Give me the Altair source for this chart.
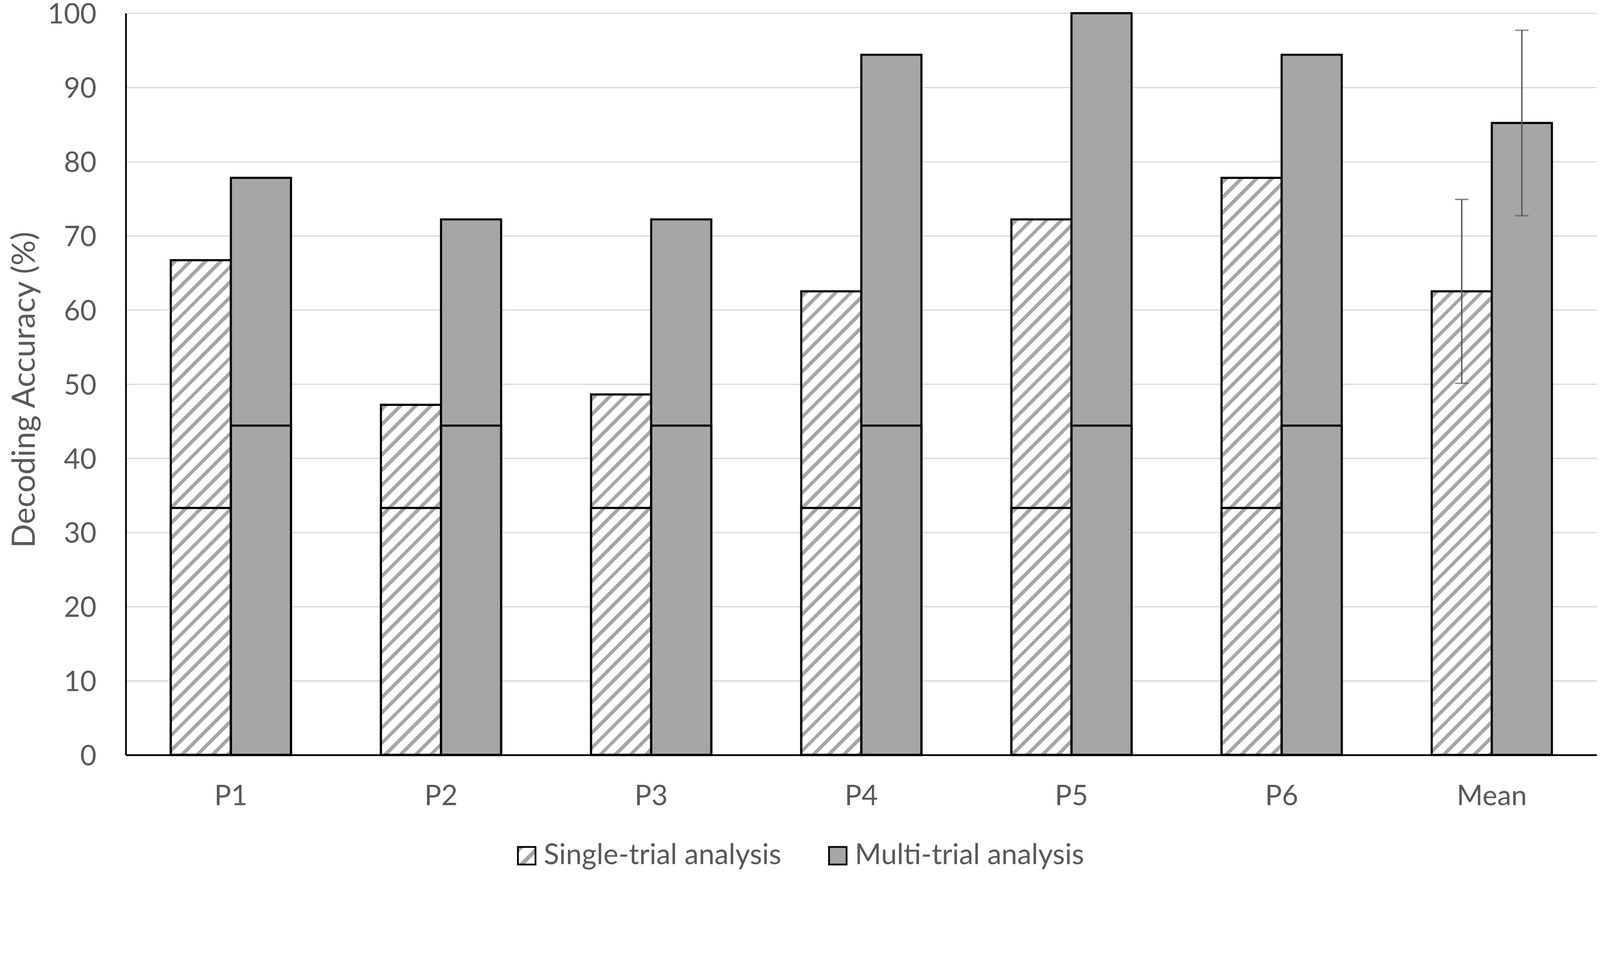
import math
import altair as alt
import pandas as pd

# ---------------- data ----------------
categories = ["P1", "P2", "P3", "P4", "P5", "P6", "Mean"]
single_acc = [66.7, 47.2, 48.6, 62.5, 72.2, 77.8, 62.5]
multi_acc = [77.8, 72.2, 72.2, 94.4, 100.0, 94.4, 85.2]
single_lower = [33.3, 33.3, 33.3, 33.3, 33.3, 33.3, None]
multi_lower = [44.4, 44.4, 44.4, 44.4, 44.4, 44.4, None]
single_err = [None, None, None, None, None, None, 12.4]
multi_err = [None, None, None, None, None, None, 12.5]
series_names = ["Single-trial analysis", "Multi-trial analysis"]
y_ticks = [0, 10, 20, 30, 40, 50, 60, 70, 80, 90, 100]

rows = []
for i, c in enumerate(categories):
    rows.append(dict(cat=c, series=series_names[0], value=single_acc[i],
                     lower=single_lower[i], err=single_err[i]))
    rows.append(dict(cat=c, series=series_names[1], value=multi_acc[i],
                     lower=multi_lower[i], err=multi_err[i]))
df = pd.DataFrame(rows)
df["lo"] = df["value"] - df["err"]
df["hi"] = df["value"] + df["err"]

# ---------------- layout / style ----------------
W, H = 4185, 2110
PAD_INNER = 0.428
FONT = "Lato"
TXT = "#595959"
GRAY = "#A6A6A6"
HATCH = "#A6A6A6"
OUT = 6

step = W / (len(categories) - PAD_INNER + PAD_INNER)
bar_w = step * (1 - PAD_INNER) / 2


def hatch_gradient(w, h, period=30.5, thick=10.0):
    L = (w + h) / math.sqrt(2)
    k = (w + h) / (w * w + h * h)
    stops = [alt.GradientStop(offset=0, color="white")]
    d = 6.0
    while d < L:
        a = round(d / L, 5)
        b = round(min((d + thick) / L, 1.0), 5)
        stops += [alt.GradientStop(offset=a, color="white"),
                  alt.GradientStop(offset=a, color=HATCH),
                  alt.GradientStop(offset=b, color=HATCH),
                  alt.GradientStop(offset=b, color="white")]
        d += period
    stops.append(alt.GradientStop(offset=1, color="white"))
    return alt.LinearGradient(gradient="linear", stops=stops,
                              x1=0, y1=0, x2=round(w * k, 6), y2=round(h * k, 6))


legend_grad = ("{gradient: 'linear', x1: 0, y1: 0, x2: 1, y2: 1, stops: ["
               "{offset: 0, color: 'white'}, {offset: 0.06, color: 'white'},"
               "{offset: 0.06, color: '#A6A6A6'}, {offset: 0.17, color: '#A6A6A6'},"
               "{offset: 0.17, color: 'white'}, {offset: 0.52, color: 'white'},"
               "{offset: 0.52, color: '#A6A6A6'}, {offset: 0.68, color: '#A6A6A6'},"
               "{offset: 0.68, color: 'white'}, {offset: 1, color: 'white'}]}")

x_enc = alt.X("cat:N", sort=categories, title=None,
              scale=alt.Scale(paddingInner=PAD_INNER, paddingOuter=PAD_INNER / 2),
              axis=alt.Axis(labelFont=FONT, labelFontSize=80, labelColor=TXT,
                            labelPadding=79, ticks=False, tickSize=0,
                            domainColor="black", domainWidth=5, grid=False,
                            labelAngle=0, labelLimit=3000))
xo_enc = alt.XOffset("series:N", sort=series_names,
                     scale=alt.Scale(domain=series_names, paddingInner=0, paddingOuter=0))
y_scale = alt.Scale(domain=[0, 100], nice=False, zero=True)
y_axis = alt.Axis(values=y_ticks, title="Decoding Accuracy (%)",
                  labelFont=FONT, labelFontSize=80, labelColor=TXT,
                  labelPadding=84, ticks=False, tickSize=0,
                  labelBaseline="alphabetic", labelOffset=29,
                  domainColor="black", domainWidth=5,
                  gridColor="#D9D9D9", gridWidth=3.5,
                  titleFont=FONT, titleFontSize=90, titleColor=TXT,
                  titleFontWeight="normal", titleAngle=-90,
                  titleBaseline="alphabetic", titleAlign="center",
                  titleX=-260, titleY=H / 2 + 16)

base = alt.Chart(df)

layers = []
for i, c in enumerate(categories):
    h = single_acc[i] / 100 * H
    layers.append(
        base.transform_filter(
            (alt.datum.cat == c) & (alt.datum.series == series_names[0])
        ).mark_bar(fill=hatch_gradient(bar_w, h), stroke="black", strokeWidth=OUT)
        .encode(x=x_enc, xOffset=xo_enc,
                y=alt.Y("value:Q", scale=y_scale, axis=y_axis, stack=None))
    )

layers.append(
    base.transform_filter(alt.datum.series == series_names[1])
    .mark_bar(stroke="black", strokeWidth=OUT)
    .encode(x=x_enc, xOffset=xo_enc,
            y=alt.Y("value:Q", scale=y_scale, axis=y_axis, stack=None),
            fill=alt.Fill("series:N",
                          scale=alt.Scale(domain=series_names,
                                          range=[alt.ExprRef(legend_grad), GRAY]),
                          legend=alt.Legend(title=None, orient="none",
                                            direction="horizontal",
                                            legendX=1100, legendY=2356,
                                            symbolType="square", symbolSize=2500,
                                            symbolStrokeColor="black",
                                            symbolStrokeWidth=5,
                                            labelFont=FONT, labelFontSize=81,
                                            labelColor=TXT, labelLimit=3000,
                                            labelOffset=8, columnPadding=120)))
)

layers.append(
    base.transform_filter(alt.datum.lower != None)
    .mark_bar(fill="transparent", stroke="black", strokeWidth=OUT)
    .encode(x=x_enc, xOffset=xo_enc,
            y=alt.Y("lower:Q", scale=y_scale, axis=y_axis, stack=None))
)

err_base = base.transform_filter(alt.datum.err != None)
layers.append(
    err_base.mark_rule(color=TXT, strokeWidth=4)
    .encode(x=x_enc, xOffset=xo_enc,
            y=alt.Y("lo:Q", scale=y_scale, axis=y_axis), y2="hi:Q")
)
layers.append(
    err_base.mark_tick(color=TXT, thickness=4, size=38)
    .encode(x=x_enc, xOffset=xo_enc,
            y=alt.Y("lo:Q", scale=y_scale, axis=y_axis))
)
layers.append(
    err_base.mark_tick(color=TXT, thickness=4, size=38)
    .encode(x=x_enc, xOffset=xo_enc,
            y=alt.Y("hi:Q", scale=y_scale, axis=y_axis))
)

chart = alt.layer(*layers).properties(
    width=W, height=H,
    autosize=alt.AutoSizeParams(type="none"),
    padding={"left": 349, "top": -95, "right": 0, "bottom": 207},
    background="white",
).configure_view(stroke=None)

chart.save("out.html", embed_options={"renderer": "svg", "actions": False})
